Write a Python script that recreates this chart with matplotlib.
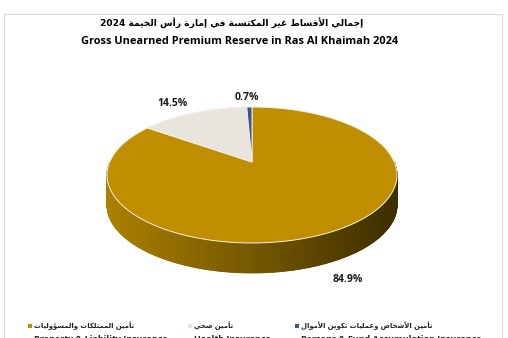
import re
import numpy as np
import matplotlib
matplotlib.use("Agg")
import matplotlib.pyplot as plt

# --- data ---
title_ar = "إجمالي الأقساط غير المكتسبة في إمارة رأس الخيمة 2024"
title_en = "Gross Unearned Premium Reserve in Ras Al Khaimah 2024"
labels_ar = ["تأمين الممتلكات والمسؤوليات", "تأمين صحي", "تأمين الأشخاص وعمليات تكوين الأموال"]
labels_en = ["Property & Liability Insurance", "Health Insurance", "Persons & Fund Accumulation Insurance"]
shares = [84.9, 14.5, 0.7]
colors = ["#BF8F00", "#E9E4DC", "#3E5290"]

# --- minimal arabic shaping (matplotlib has no bidi / joining) ---
F = {
    "ء": ("\uFE80", None, None, None),
    "آ": ("\uFE81", "\uFE82", None, None),
    "أ": ("\uFE83", "\uFE84", None, None),
    "ؤ": ("\uFE85", "\uFE86", None, None),
    "إ": ("\uFE87", "\uFE88", None, None),
    "ئ": ("\uFE89", "\uFE8A", "\uFE8B", "\uFE8C"),
    "ا": ("\uFE8D", "\uFE8E", None, None),
    "ب": ("\uFE8F", "\uFE90", "\uFE91", "\uFE92"),
    "ة": ("\uFE93", "\uFE94", None, None),
    "ت": ("\uFE95", "\uFE96", "\uFE97", "\uFE98"),
    "ث": ("\uFE99", "\uFE9A", "\uFE9B", "\uFE9C"),
    "ج": ("\uFE9D", "\uFE9E", "\uFE9F", "\uFEA0"),
    "ح": ("\uFEA1", "\uFEA2", "\uFEA3", "\uFEA4"),
    "خ": ("\uFEA5", "\uFEA6", "\uFEA7", "\uFEA8"),
    "د": ("\uFEA9", "\uFEAA", None, None),
    "ذ": ("\uFEAB", "\uFEAC", None, None),
    "ر": ("\uFEAD", "\uFEAE", None, None),
    "ز": ("\uFEAF", "\uFEB0", None, None),
    "س": ("\uFEB1", "\uFEB2", "\uFEB3", "\uFEB4"),
    "ش": ("\uFEB5", "\uFEB6", "\uFEB7", "\uFEB8"),
    "ص": ("\uFEB9", "\uFEBA", "\uFEBB", "\uFEBC"),
    "ض": ("\uFEBD", "\uFEBE", "\uFEBF", "\uFEC0"),
    "ط": ("\uFEC1", "\uFEC2", "\uFEC3", "\uFEC4"),
    "ظ": ("\uFEC5", "\uFEC6", "\uFEC7", "\uFEC8"),
    "ع": ("\uFEC9", "\uFECA", "\uFECB", "\uFECC"),
    "غ": ("\uFECD", "\uFECE", "\uFECF", "\uFED0"),
    "ف": ("\uFED1", "\uFED2", "\uFED3", "\uFED4"),
    "ق": ("\uFED5", "\uFED6", "\uFED7", "\uFED8"),
    "ك": ("\uFED9", "\uFEDA", "\uFEDB", "\uFEDC"),
    "ل": ("\uFEDD", "\uFEDE", "\uFEDF", "\uFEE0"),
    "م": ("\uFEE1", "\uFEE2", "\uFEE3", "\uFEE4"),
    "ن": ("\uFEE5", "\uFEE6", "\uFEE7", "\uFEE8"),
    "ه": ("\uFEE9", "\uFEEA", "\uFEEB", "\uFEEC"),
    "و": ("\uFEED", "\uFEEE", None, None),
    "ى": ("\uFEEF", "\uFEF0", None, None),
    "ي": ("\uFEF1", "\uFEF2", "\uFEF3", "\uFEF4"),
}
LAM_ALEF = {"آ": ("\uFEF5", "\uFEF6"), "أ": ("\uFEF7", "\uFEF8"),
            "إ": ("\uFEF9", "\uFEFA"), "ا": ("\uFEFB", "\uFEFC")}


def shape(s):
    out = []
    i = 0
    while i < len(s):
        c = s[i]
        if c not in F:
            out.append(c)
            i += 1
            continue
        prev = s[i - 1] if i > 0 else None
        jp = prev in F and F[prev][2] is not None
        if c == "ل" and i + 1 < len(s) and s[i + 1] in LAM_ALEF:
            lig = LAM_ALEF[s[i + 1]]
            out.append(lig[1] if jp else lig[0])
            i += 2
            continue
        nxt = s[i + 1] if i + 1 < len(s) else None
        jn = F[c][2] is not None and nxt in F
        if jp and jn:
            out.append(F[c][3])
        elif jp:
            out.append(F[c][1])
        elif jn:
            out.append(F[c][2])
        else:
            out.append(F[c][0])
        i += 1
    s = "".join(out)
    toks = re.findall(r"[0-9]+|[^0-9]+", s)
    return "".join(t if t.isdigit() else t[::-1] for t in reversed(toks))


W, H = 508, 338
fig = plt.figure(figsize=(W / 100, H / 100), dpi=100)
ax = fig.add_axes([0, 0, 1, 1])
ax.set_xlim(0, W)
ax.set_ylim(H, 0)
ax.axis("off")

# chart border
ax.add_patch(plt.Rectangle((4, 14), 498, 340, fill=False, ec="#D9D9D9", lw=0.8))

# --- 3d pie ---
cx, cy, A, B, p, depth = 252, 162, 142.3, 65.5, 0.191, 30


def proj(t):
    u, v = np.cos(t), np.sin(t)
    w = 1 + p * v
    return cx + A * u / w, cy - B * v / w


def darker(col, f):
    r, g, b = matplotlib.colors.to_rgb(col)
    return (r * f, g * f, b * f)


total = sum(shares)
bounds = 90 - 360 * np.concatenate([[0], np.cumsum(shares)]) / total
arcs = []
for i in range(len(shares)):
    n = max(3, int(abs(bounds[i] - bounds[i + 1]) * 3))
    arcs.append(np.radians(np.linspace(bounds[i], bounds[i + 1], n)))

# side walls (front half only)
for i, t in enumerate(arcs):
    X, Y = proj(t)
    front = np.sin(t) < 0.02
    for k in range(len(t) - 1):
        if not (front[k] and front[k + 1]):
            continue
        xm = (X[k] + X[k + 1]) / 2
        frac = (xm - (cx - 145)) / 290
        c = darker(colors[i], 0.9 - 0.58 * frac)
        ax.fill([X[k], X[k + 1], X[k + 1], X[k]],
                [Y[k], Y[k + 1], Y[k + 1] + depth, Y[k] + depth],
                color=c, lw=0.6, ec=c)

# top faces
for i, t in enumerate(arcs):
    X, Y = proj(t)
    ax.fill(np.r_[cx, X], np.r_[cy, Y], fc=colors[i], ec="#F4F0E8", lw=0.7)

# value labels
label_pos = [(348, 279), (172, 104), (247, 97)]
for v, (x, y) in zip(shares, label_pos):
    ax.text(x, y, f"{v:.1f}%", ha="center", va="center", fontsize=7.5,
            fontweight="bold", family="Open Sans", color="#1a1a1a")

# --- titles, fitted to the reference widths ---
r = fig.canvas.get_renderer()


def fit(txt, target, size):
    w = txt.get_window_extent(r).width
    txt.set_fontsize(size * target / w)


t1 = ax.text(232, 23, shape(title_ar), ha="center", va="center", fontsize=9,
             fontweight="bold", family="DejaVu Sans")
fit(t1, 263, 9)
t2 = ax.text(240, 41, title_en, ha="center", va="center", fontsize=9,
             fontweight="bold", family="Open Sans")
fit(t2, 316, 9)

# --- legend (marker left of RTL text) ---
leg_x = [30, 190, 297]
for i in range(len(labels_ar)):
    ax.scatter([leg_x[i]], [326], marker="s", s=7, color=colors[i], lw=0)
    ta = ax.text(leg_x[i] + 4, 326, shape(labels_ar[i]), ha="left", va="center",
                 fontsize=6, family="DejaVu Sans", fontweight="bold", color="#222222")
    if i == 0:
        fit(ta, 101, 6)
        leg_size = ta.get_fontsize()
    else:
        ta.set_fontsize(leg_size)
    # second legend line sits at the bottom edge, only its top shows
    ax.text(leg_x[i] + 4, 335.5, labels_en[i], ha="left", va="top",
            fontsize=6.5, family="Open Sans", fontweight="bold", color="#222222")

fig.savefig("out.png", dpi=100)
